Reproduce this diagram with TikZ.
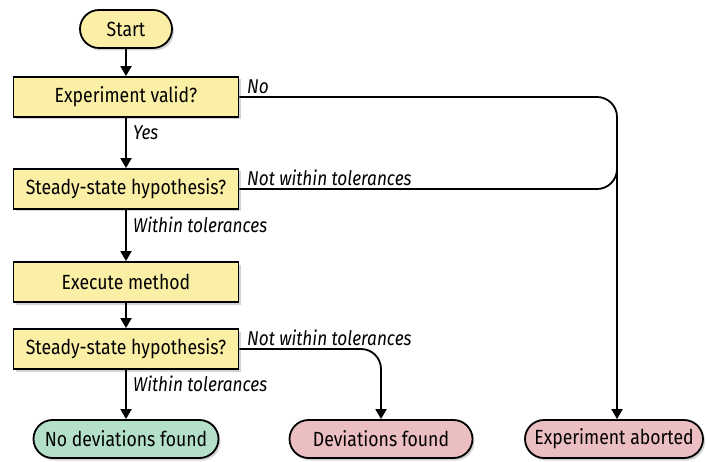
\documentclass[tikz,border=0pt]{standalone}
\usepackage{fontspec}
\setmainfont{Fira Sans}[FakeStretch=0.86]
\usetikzlibrary{shapes.misc,shadows,arrows.meta}
\definecolor{yel}{HTML}{FBEFA6}
\definecolor{grn}{HTML}{B4DFC8}
\definecolor{pnk}{HTML}{EBBEC1}
\tikzset{
  base/.style={draw=black, line width=1.8pt, text=black, font=\fontsize{20.5}{24}\selectfont,
    inner sep=0pt, drop shadow={shadow xshift=2pt, shadow yshift=-2.5pt, opacity=0.35}},
  boxnode/.style={base, rectangle, fill=yel, minimum width=225pt, minimum height=40pt},
  pill/.style={base, rounded rectangle, minimum height=38pt},
  arr/.style={line width=1.8pt, -{Triangle[width=11pt,length=10pt]}},
  ln/.style={line width=1.8pt},
  lbl/.style={font=\fontsize{20}{24}\selectfont\itshape, inner sep=0pt}
}
\begin{document}
\begin{tikzpicture}[x=1pt,y=-1pt]
\useasboundingbox (0,0) rectangle (706,462);
\node[pill, fill=yel, minimum width=92pt] (start) at (126,29) {Start};
\node[boxnode] (valid) at (126,97) {Experiment valid?};
\node[boxnode] (ss1) at (126,189) {Steady-state hypothesis?};
\node[boxnode] (exec) at (126,282) {Execute method};
\node[boxnode] (ss2) at (126,349) {Steady-state hypothesis?};
\node[pill, fill=grn, minimum width=185pt] (nodev) at (126,439) {No deviations found};
\node[pill, fill=pnk, minimum width=183pt] (dev) at (381,439) {Deviations found};
\node[pill, fill=pnk, minimum width=178pt] (abort) at (614,439) {Experiment aborted};
\coordinate (vx) at (617,0);
\coordinate (dx) at (381,0);

\draw[arr] (start) -- (valid);
\draw[arr] (valid) -- (ss1);
\draw[arr] (ss1) -- (exec);
\draw[arr] (exec) -- (ss2);
\draw[arr] (ss2) -- (nodev);
\draw[arr, rounded corners=20pt] (valid.east) -- (vx |- valid.east) -- (vx |- abort.north);
\draw[ln, rounded corners=20pt] (ss1.east) -- (vx |- ss1.east) -- ([yshift=45pt]vx |- ss1.east);
\draw[arr, rounded corners=20pt] (ss2.east) -- (dx |- ss2.east) -- (dx |- dev.north);

\node[lbl, anchor=south west] (lno) at (247,94) {No};
\node[lbl, anchor=west] (lyes) at (133,133) {Yes};
\node[lbl, anchor=south west] (lnw1) at (247,186) {Not within tolerances};
\node[lbl, anchor=west] (lw1) at (133,225) {Within tolerances};
\node[lbl, anchor=south west] (lnw2) at (247,346) {Not within tolerances};
\node[lbl, anchor=west] (lw2) at (133,384) {Within tolerances};
\end{tikzpicture}
\end{document}
